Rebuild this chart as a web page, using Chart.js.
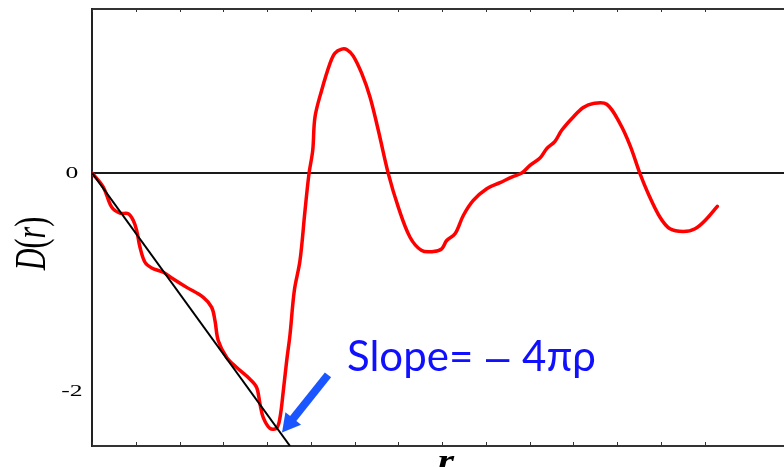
<!DOCTYPE html>
<html>
<head>
<meta charset="utf-8">
<title>D(r)</title>
<script src="https://cdn.jsdelivr.net/npm/chart.js@4.4.1/dist/chart.umd.min.js"></script>
<style>
  html, body { margin: 0; padding: 0; background: #ffffff; overflow: hidden; }
  #wrap { position: relative; width: 784px; height: 467px; }
</style>
</head>
<body>
<div id="wrap"><canvas id="chart" width="784" height="467"></canvas></div>
<script>
// Distance r (one tick step per unit) and the measured D(r) curve
const rValues = [0, 0.258, 0.450, 0.640, 0.830, 0.944, 1.022, 1.097, 1.211, 1.365, 1.630, 1.858, 2.165, 2.544, 2.736, 2.811, 2.887, 3.079, 3.307, 3.611, 3.765, 3.840, 3.915, 4.069, 4.222, 4.297, 4.373, 4.450, 4.526, 4.624, 4.754, 4.869, 4.960, 5.045, 5.097, 5.250, 5.440, 5.554, 5.707, 5.829, 5.973, 6.165, 6.354, 6.544, 6.773, 7.001, 7.269, 7.536, 7.801, 7.993, 8.107, 8.297, 8.487, 8.715, 9.022, 9.326, 9.593, 9.822, 10.011, 10.240, 10.393, 10.583, 10.736, 11.001, 11.230, 11.458, 11.765, 12.069, 12.297, 12.526, 12.715, 12.983, 13.211, 13.515, 13.783, 14.050, 14.293];
const dValues = [0, -0.130, -0.314, -0.369, -0.374, -0.436, -0.528, -0.681, -0.818, -0.870, -0.910, -0.971, -1.048, -1.139, -1.231, -1.353, -1.537, -1.690, -1.782, -1.888, -1.965, -2.117, -2.240, -2.339, -2.335, -2.240, -1.995, -1.720, -1.480, -1.078, -0.803, -0.344, -0.007, 0.206, 0.512, 0.757, 1.002, 1.096, 1.133, 1.128, 1.069, 0.910, 0.695, 0.390, -0.007, -0.314, -0.589, -0.711, -0.720, -0.695, -0.619, -0.558, -0.390, -0.252, -0.145, -0.090, -0.039, -0.002, 0.069, 0.136, 0.222, 0.289, 0.390, 0.512, 0.598, 0.635, 0.628, 0.451, 0.252, -0.007, -0.191, -0.406, -0.512, -0.537, -0.512, -0.420, -0.307];

// Small-r asymptote, slope -4πρ
const slopeR = [0, 4.526];
const slopeD = [0, -2.5];

// Zero reference line
const zeroR = [0, 15.817];
const zeroD = [0, 0];

// Axis ranges and labelled ticks
const rRange = [0, 15.817];
const dRange = [-2.5, 1.5];
const yTickLabels = [0, -2];

const yTitle = [['D', 'italic'], ['(', ''], ['r', 'italic'], [')', '']];
const xTitle = 'r';
const slopeText = ['Slope=', '\u2013', '4\u03c0\u03c1'];

const toPoints = (xs, ys) => xs.map((v, i) => ({ x: v, y: ys[i] }));

// Annotation placement, in data units
const note = {
  arrowTail: { x: 5.394, y: -1.849 },
  arrowTip: { x: 4.343, y: -2.376 },
  textAt: { x: 5.829, y: -1.812 }
};

function stretchedText(ctx, text, x, y, font, sx, align, baseline) {
  ctx.save();
  ctx.translate(x, y);
  ctx.scale(sx, 1);
  ctx.font = font;
  ctx.textAlign = align;
  ctx.textBaseline = baseline;
  ctx.fillText(text, 0, 0);
  ctx.restore();
}

const overlay = {
  id: 'overlay',
  afterDraw(chart) {
    const { ctx, chartArea: a } = chart;
    const xs = chart.scales.x, ys = chart.scales.y;
    ctx.save();

    // inward tick marks on bottom, top and left edges
    ctx.strokeStyle = '#333333';
    ctx.lineWidth = 1;
    ctx.beginPath();
    xs.ticks.forEach(t => {
      if (!Number.isInteger(t.value)) return;
      const px = Math.round(xs.getPixelForValue(t.value)) + 0.5;
      ctx.moveTo(px, a.bottom); ctx.lineTo(px, a.bottom - 4);
      ctx.moveTo(px, a.top); ctx.lineTo(px, a.top + 3);
    });
    ys.ticks.forEach(t => {
      if (!Number.isInteger(t.value)) return;
      const py = Math.round(ys.getPixelForValue(t.value)) + 0.5;
      ctx.moveTo(a.left, py); ctx.lineTo(a.left + 4, py);
    });
    ctx.stroke();

    // y tick labels
    ctx.fillStyle = '#000000';
    yTickLabels.forEach(v => {
      stretchedText(ctx, String(v), a.left - 20, ys.getPixelForValue(v) + 0.5,
        '16px "Liberation Serif", "Times New Roman", serif', 1.6, 'center', 'middle');
    });

    // y axis title, rotated
    ctx.save();
    ctx.translate(a.left - 59, (a.top + a.bottom) / 2 + 16);
    ctx.scale(1.5, 1);
    ctx.rotate(-Math.PI / 2);
    ctx.textBaseline = 'middle';
    ctx.textAlign = 'left';
    const fontFor = s => (s ? s + ' ' : '') + '30px "Liberation Serif", "Times New Roman", serif';
    let total = 0;
    yTitle.forEach(([s, st]) => { ctx.font = fontFor(st); total += ctx.measureText(s).width; });
    let cx = -total / 2;
    yTitle.forEach(([s, st]) => {
      ctx.font = fontFor(st);
      ctx.fillText(s, cx, 0);
      cx += ctx.measureText(s).width;
    });
    ctx.restore();

    // x axis title
    stretchedText(ctx, xTitle, (a.left + a.right) / 2 + 8, a.bottom + 24,
      'italic bold 30px "Liberation Serif", "Times New Roman", serif', 1.4, 'center', 'alphabetic');

    // slope annotation arrow
    const tx = xs.getPixelForValue(note.arrowTail.x), ty = ys.getPixelForValue(note.arrowTail.y);
    const hx = xs.getPixelForValue(note.arrowTip.x), hy = ys.getPixelForValue(note.arrowTip.y);
    const len = Math.hypot(hx - tx, hy - ty);
    const ux = (hx - tx) / len, uy = (hy - ty) / len;
    const headLen = 18, headHalf = 10;
    const bx = hx - ux * headLen, by = hy - uy * headLen;
    ctx.strokeStyle = '#1a55ff';
    ctx.fillStyle = '#1a55ff';
    ctx.lineWidth = 8;
    ctx.lineCap = 'butt';
    ctx.beginPath();
    ctx.moveTo(tx, ty);
    ctx.lineTo(bx + ux * 2, by + uy * 2);
    ctx.stroke();
    ctx.beginPath();
    ctx.moveTo(hx, hy);
    ctx.lineTo(bx - uy * headHalf, by + ux * headHalf);
    ctx.lineTo(bx + uy * headHalf, by - ux * headHalf);
    ctx.closePath();
    ctx.fill();

    // slope annotation text: "Slope=", a long dash, then 4πρ
    ctx.fillStyle = '#1010ff';
    ctx.textAlign = 'left';
    ctx.textBaseline = 'alphabetic';
    const font = '42px Lato, "Liberation Sans", sans-serif';
    ctx.font = font;
    let sx = xs.getPixelForValue(note.textAt.x);
    const sy = ys.getPixelForValue(note.textAt.y);
    ctx.fillText(slopeText[0], sx, sy);
    sx += ctx.measureText(slopeText[0] + ' ').width + 2;
    ctx.font = '42px "Liberation Sans", sans-serif';
    ctx.fillText(slopeText[1], sx, sy);
    sx += ctx.measureText(slopeText[1]).width;
    ctx.font = font;
    sx += ctx.measureText(' ').width + 2;
    ctx.fillText(slopeText[2], sx, sy);

    ctx.restore();
  }
};

new Chart(document.getElementById('chart'), {
  type: 'line',
  data: {
    datasets: [
      {
        label: 'slope',
        data: toPoints(slopeR, slopeD),
        borderColor: '#000000',
        borderWidth: 2,
        pointRadius: 0,
        tension: 0
      },
      {
        label: 'D(r)',
        data: toPoints(rValues, dValues),
        borderColor: '#ff0000',
        borderWidth: 3.5,
        pointRadius: 0,
        tension: 0.35,
        borderJoinStyle: 'round',
        borderCapStyle: 'round'
      },
      {
        label: 'zero',
        data: toPoints(zeroR, zeroD),
        borderColor: '#1a1a1a',
        borderWidth: 2,
        pointRadius: 0,
        tension: 0
      }
    ]
  },
  options: {
    responsive: false,
    animation: false,
    events: [],
    layout: { padding: 0 },
    plugins: { legend: { display: false }, tooltip: { enabled: false } },
    scales: {
      x: {
        type: 'linear',
        position: 'bottom',
        min: rRange[0],
        max: rRange[1],
        ticks: { display: false, stepSize: 1 },
        grid: { display: false },
        border: { display: true, color: '#333333', width: 2 },
        afterFit(s) { s.height = 21; }
      },
      x2: {
        type: 'linear',
        position: 'top',
        min: rRange[0],
        max: rRange[1],
        ticks: { display: false },
        grid: { display: false },
        border: { display: true, color: '#333333', width: 2 },
        afterFit(s) { s.height = 9; }
      },
      y: {
        type: 'linear',
        position: 'left',
        min: dRange[0],
        max: dRange[1],
        ticks: { display: false, stepSize: 1 },
        grid: { display: false },
        border: { display: true, color: '#222222', width: 2 },
        afterFit(s) { s.width = 92; }
      }
    }
  },
  plugins: [overlay]
});
</script>
</body>
</html>
